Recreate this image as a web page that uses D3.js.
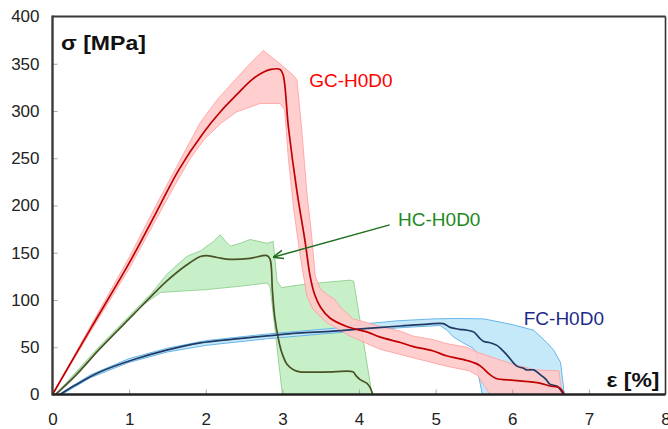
<!DOCTYPE html>
<html>
<head>
<meta charset="utf-8">
<script src="https://cdn.jsdelivr.net/npm/d3@7"></script>
<style>
  html, body { margin: 0; padding: 0; background: #fff; }
  svg { display: block; font-family: "Liberation Sans", Arial, sans-serif; }
</style>
</head>
<body>
<svg id="chart" width="668" height="429"></svg>
<script>
// ---- Data (strain %, stress MPa) ----
const xTicks = [0, 1, 2, 3, 4, 5, 6, 7, 8];
const yTicks = [0, 50, 100, 150, 200, 250, 300, 350, 400];

const gcMean = [[0,0],[0.5,70],[1.0,139],[1.35,192],[1.65,238],[1.97,277],[2.2,300],[2.4,317],[2.6,333],[2.75,341],[2.85,344],[2.97,344],[3.01,338],[3.08,282],[3.19,215],[3.30,160],[3.36,126],[3.42,106],[3.5,92],[3.62,81],[3.84,72],[4.11,66],[4.27,61],[4.54,55],[4.70,51],[4.97,46],[5.14,41],[5.41,36],[5.57,31],[5.71,21],[5.79,17],[6.02,15],[6.36,12],[6.49,9],[6.62,7],[6.68,0]];
const gcUpper = [[0,0],[0.5,73],[1.0,145],[1.35,200],[1.62,241],[1.93,288],[2.15,312],[2.36,331],[2.6,352],[2.75,364],[2.97,350],[3.14,338],[3.19,333],[3.25,283],[3.32,213],[3.38,170],[3.43,125],[3.5,111],[3.6,105],[3.68,101],[3.75,93],[3.92,80],[4.11,76],[4.27,72],[4.54,67],[4.70,62],[4.97,58],[5.14,54],[5.41,50],[5.57,44],[6.01,32],[6.31,26],[6.61,25],[6.65,0]];
const gcLower = [[0,0],[0.5,67],[1.0,133],[1.35,185],[1.6,222],[1.8,250],[1.98,270],[2.2,287],[2.4,299],[2.71,308],[2.97,308],[3.03,301],[3.08,248],[3.15,195],[3.23,148],[3.32,104],[3.40,90],[3.58,76],[3.88,62],[4.27,48],[4.70,39],[5.14,30],[5.44,25],[5.55,20],[5.71,0]];

const hcMean = [[0.04,0],[0.3,20],[0.625,49],[1.06,85],[1.3,105],[1.49,120],[1.75,137],[1.93,146],[2.01,147],[2.15,145],[2.32,143],[2.58,144],[2.80,147],[2.84,143],[2.87,110],[2.90,82],[2.95,58],[2.99,45],[3.06,32],[3.15,26],[3.23,24],[3.66,24],[3.92,24],[3.96,20],[4.01,16],[4.10,12],[4.14,8],[4.18,0]];
const hcUpper = [[0.04,0],[0.6,50],[1.0,83],[1.3,108],[1.49,127],[1.75,146],[1.93,152],[2.1,162],[2.19,169],[2.25,163],[2.32,157],[2.45,160],[2.58,164],[2.80,160],[2.88,162],[2.93,120],[2.99,113],[3.06,114],[3.23,116],[3.60,119],[3.88,121],[3.93,120],[4.17,0]];
const hcLower = [[0.04,0],[0.6,47],[1.0,80],[1.2,96],[1.41,108],[1.6,109],[2.01,111],[2.5,115],[2.80,118],[2.84,114],[3.00,0]];

const fcMean = [[0.1,0],[0.3,10],[0.625,24],[1.06,37],[1.49,47],[1.93,54.6],[2.36,58.5],[2.80,62],[3.2,65],[3.66,67],[4.11,70],[4.54,72.5],[4.9,74.5],[5.10,75],[5.19,71],[5.31,69],[5.41,68],[5.50,66],[5.57,60],[5.63,56],[5.70,55],[5.80,52],[5.87,47],[5.93,42],[6.06,30],[6.14,28],[6.19,26],[6.28,26],[6.35,22],[6.44,16],[6.49,11],[6.58,9],[6.61,7],[6.67,0]];
const fcUpper = [[0.08,0],[0.5,21],[1.0,38],[1.5,49],[2.0,57],[2.8,64],[3.66,70],[4.11,75],[4.5,78],[4.97,80],[5.3,80.5],[5.63,80],[6.0,74],[6.28,68],[6.45,55],[6.54,47],[6.63,34],[6.68,0]];
const fcLower = [[0.12,0],[0.5,18],[1.0,34],[1.5,45],[2.0,52],[2.8,59],[3.66,65],[4.11,68],[4.6,71],[5.06,73],[5.15,68],[5.23,61],[5.35,55],[5.49,49],[5.53,43],[5.56,20],[5.61,0]];

const seriesNames = ["GC-H0D0", "HC-H0D0", "FC-H0D0"];
const labelAnchors = [[3.35, 325], [4.51, 178], [6.15, 74]];
const arrowFrom = [4.40, 179.5];
const arrowTo = [2.89, 145.5];

// ---- Layout ----
const svg = d3.select("#chart");
const x = d3.scaleLinear().domain([0, 8]).range([52.5, 665.5]);
const y = d3.scaleLinear().domain([0, 400]).range([394.5, 16.5]);

const bandPath = (up, lo) => d3.line().x(d => x(d[0])).y(d => y(d[1]))(up.concat(lo.slice().reverse())) + "Z";
const meanLine = d3.line().x(d => x(d[0])).y(d => y(d[1])).curve(d3.curveCatmullRom.alpha(0.5));

// Bands
svg.append("path").attr("d", bandPath(hcUpper, hcLower))
  .attr("fill", "#c8f0c8").attr("stroke", "#86c986").attr("stroke-width", 0.8);
svg.append("path").attr("d", bandPath(fcUpper, fcLower))
  .attr("fill", "#c6e9f9").attr("stroke", "#5aaee6").attr("stroke-width", 0.9);
svg.append("path").attr("d", bandPath(gcUpper, gcLower))
  .attr("fill", "#ffc9c9").attr("fill-opacity", 0.9).attr("stroke", "#ff9a9a").attr("stroke-width", 0.8);

// Mean lines
svg.append("path").attr("d", meanLine(hcMean)).attr("fill", "none").attr("stroke", "#4a5226").attr("stroke-width", 1.7);
svg.append("path").attr("d", meanLine(fcMean)).attr("fill", "none").attr("stroke", "#203a66").attr("stroke-width", 1.7);
svg.append("path").attr("d", meanLine(gcMean)).attr("fill", "none").attr("stroke", "#c00000").attr("stroke-width", 1.7);

// Axes
const xAxis = d3.axisBottom(x).tickValues(xTicks).tickSize(-5).tickPadding(18).tickFormat(d3.format("d"));
const yAxis = d3.axisLeft(y).tickValues(yTicks).tickSize(-5).tickPadding(13).tickFormat(d3.format("d"));
const gx = svg.append("g").attr("transform", `translate(0,${y(0)})`).call(xAxis);
const gy = svg.append("g").attr("transform", `translate(${x(0)},0)`).call(yAxis);
[gx, gy].forEach(g => {
  g.select(".domain").remove();
  g.selectAll(".tick line").attr("stroke", "#a8a8a8").attr("stroke-width", 1);
  g.selectAll(".tick text").attr("fill", "#222").style("font-size", "17px")
    .style("font-family", "'Liberation Sans', Arial, sans-serif");
});
gx.selectAll(".tick line").filter(d => d === 0 || d === 8).remove();
gy.selectAll(".tick line").filter(d => d === 0 || d === 400).remove();

// Frame
const frame = svg.append("g");
frame.append("line").attr("x1", x(0)).attr("x2", x(8)).attr("y1", y(400)).attr("y2", y(400)).attr("stroke", "#3a3a3a").attr("stroke-width", 2.2);
frame.append("line").attr("x1", x(8)).attr("x2", x(8)).attr("y1", y(400)).attr("y2", y(0)).attr("stroke", "#333").attr("stroke-width", 1.6);
frame.append("line").attr("x1", x(0)).attr("x2", x(0)).attr("y1", y(400) - 1).attr("y2", y(0) + 1).attr("stroke", "#3a3a3a").attr("stroke-width", 2.4);
frame.append("line").attr("x1", x(0)).attr("x2", x(8)).attr("y1", y(0)).attr("y2", y(0)).attr("stroke", "#222").attr("stroke-width", 2.4);

// Axis titles
svg.append("text").attr("x", x(0) + 8.5).attr("y", y(400) + 33.5)
  .attr("font-weight", "bold").attr("font-size", 21).attr("fill", "#111")
  .attr("textLength", 85).attr("lengthAdjust", "spacingAndGlyphs").text("σ [MPa]");
svg.append("text").attr("x", x(8) - 6).attr("y", y(0) - 8).attr("text-anchor", "end")
  .attr("font-weight", "bold").attr("font-size", 21).attr("fill", "#111")
  .attr("textLength", 53).attr("lengthAdjust", "spacingAndGlyphs").text("ε [%]");

// Series labels
const labelColors = ["#ff0000", "#1b8a1b", "#1c2a8a"];
seriesNames.forEach((n, i) => {
  svg.append("text").attr("x", x(labelAnchors[i][0])).attr("y", y(labelAnchors[i][1]))
    .attr("font-size", 19).attr("fill", labelColors[i]).text(n);
});

// Arrow
svg.append("defs").append("marker").attr("id", "ah").attr("viewBox", "0 0 10 10")
  .attr("refX", 9).attr("refY", 5).attr("markerWidth", 7).attr("markerHeight", 7)
  .attr("orient", "auto").append("path").attr("d", "M0,1 L10,5 L0,9").attr("fill", "none")
  .attr("stroke", "#1e6e1e").attr("stroke-width", 1.5);
svg.append("line").attr("x1", x(arrowFrom[0])).attr("y1", y(arrowFrom[1]))
  .attr("x2", x(arrowTo[0])).attr("y2", y(arrowTo[1]))
  .attr("stroke", "#1e6e1e").attr("stroke-width", 1.5).attr("marker-end", "url(#ah)");
</script>
</body>
</html>
